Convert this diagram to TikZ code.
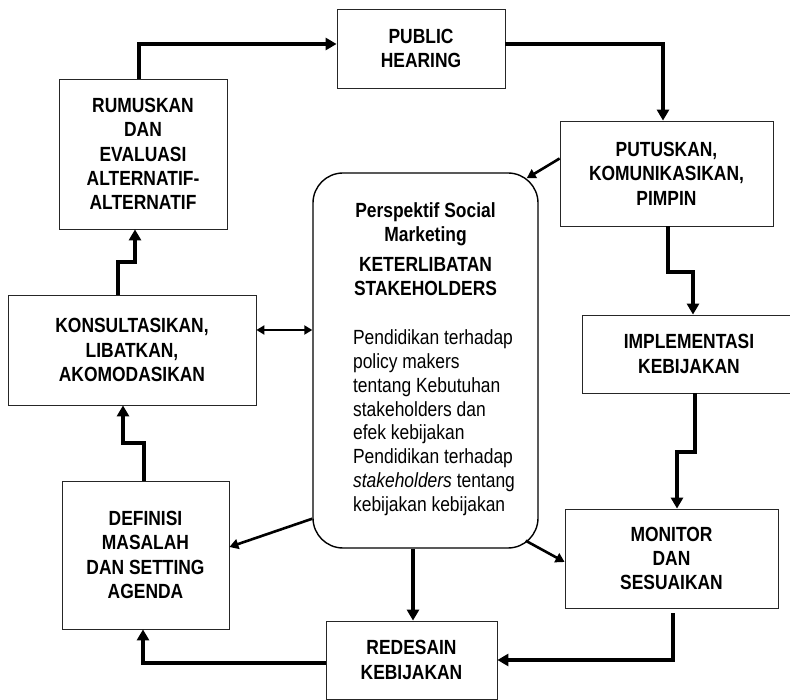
\documentclass[tikz,border=0pt]{standalone}
\usepackage{fontspec}
\setmainfont{Liberation Sans}[FakeStretch=0.85]
\usetikzlibrary{positioning}
\usetikzlibrary{arrows.meta}

\begin{document}
\begin{tikzpicture}[x=1pt, y=-1pt,
box/.style={draw=black!85, line width=0.8pt, align=center, inner sep=0pt, font=\fontsize{20.5}{24.4}\selectfont\bfseries},
persp/.style={draw, line width=1.4pt, rounded corners=30pt, align=center, inner sep=0pt, font=\fontsize{20.5}{23.8}\selectfont},
flow/.style={line width=4pt, -{Triangle[length=11pt,width=12pt]}},
link/.style={line width=2.6pt, -{Triangle[length=9pt,width=10pt]}},
both/.style={line width=2.6pt, {Triangle[length=8pt,width=9pt]}-{Triangle[length=8pt,width=9pt]}}]
\useasboundingbox (0,0) rectangle (790,700);

% boxes round the cycle
\node[box, minimum width=168, minimum height=79] (public) at (421,48.5) {PUBLIC\\HEARING};
\node[box, minimum width=213, minimum height=105] (putus) at (666.5,173.5) {PUTUSKAN,\\KOMUNIKASIKAN,\\PIMPIN};
\node[box, minimum width=214, minimum height=78] (implem) at (689,354) {IMPLEMENTASI\\KEBIJAKAN};
\node[box, minimum width=213, minimum height=99] (monit) at (671.5,558.5) {MONITOR\\DAN\\SESUAIKAN};
\node[box, minimum width=171, minimum height=78] (redes) at (411.5,660) {REDESAIN\\KEBIJAKAN};
\node[box, minimum width=167, minimum height=148] (defin) at (145.5,555) {DEFINISI\\MASALAH\\DAN SETTING\\AGENDA};
\node[box, minimum width=248, minimum height=110] (konsul) at (132,350) {KONSULTASIKAN,\\LIBATKAN,\\AKOMODASIKAN};
\node[box, minimum width=168, minimum height=150] (rumus) at (143,154) {RUMUSKAN\\DAN\\EVALUASI\\ALTERNATIF-\\ALTERNATIF};

% centre box
\node[persp, minimum width=225, minimum height=375] (sm) at (425.5,360.5) {\textbf{Perspektif Social}\\\textbf{Marketing}\\[6.6pt]\textbf{KETERLIBATAN}\\\textbf{STAKEHOLDERS}\\[25.6pt]\hspace*{17pt}\begin{tabular}[t]{@{}l@{}}Pendidikan terhadap\\policy makers\\tentang Kebutuhan\\stakeholders dan\\efek kebijakan\\Pendidikan terhadap\\\textit{stakeholders} tentang\\kebijakan kebijakan\end{tabular}};

% cycle arrows
\draw[flow] ([xshift=-4pt]rumus.north) |- ([yshift=4.5pt]public.west);
\draw[flow] ([yshift=4.5pt]public.east) -| ([xshift=-3.5pt]putus.north);
\draw[flow] ([xshift=1.5pt]putus.south) -- ++(0,46) -| ([xshift=4pt]implem.north);
\draw[flow] ([xshift=6pt]implem.south) -- ++(0,59) -| ([xshift=5.5pt]monit.north);
\draw[flow] ([shift={(1.5pt,-5pt)}]monit.south) |- (redes.east);
\draw[flow] ([yshift=-3pt]redes.west) -| ([xshift=-2.5pt]defin.south);
\draw[flow] ([xshift=-1.5pt]defin.north) -- ++(0,-38) -| ([xshift=-9pt]konsul.south);
\draw[flow] ([xshift=-14pt]konsul.north) -- ++(0,-33) -| ([xshift=-8pt]rumus.south);

% arrows to and from the centre box
\draw[flow] ([xshift=-12.5pt]sm.south) -- ([xshift=-12.5pt]sm.south |- redes.north);
\draw[link] ([yshift=15pt]putus.west) -- ([shift={(-12pt,-6pt)}]sm.north east);
\draw[link] ([yshift=30pt]sm.south west) -- ([yshift=8pt]defin.east);
\draw[link] ([shift={(-13pt,8pt)}]sm.south east) -- ([yshift=-3.5pt]monit.west);
\draw[both] ([yshift=20pt]konsul.east) coordinate (k) -- (k -| sm.west);

\end{tikzpicture}
\end{document}
